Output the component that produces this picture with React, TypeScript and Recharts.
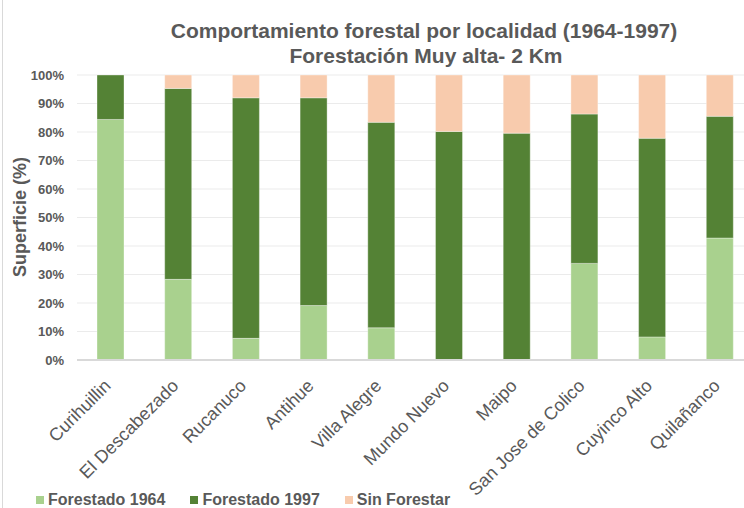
import { BarChart, Bar, XAxis, YAxis, CartesianGrid } from 'recharts'

const LOCALIDADES = [
  'Curihuillin', 'El Descabezado', 'Rucanuco', 'Antihue', 'Villa Alegre',
  'Mundo Nuevo', 'Maipo', 'San Jose de Colico', 'Cuyinco Alto', 'Quilañanco',
]
const FORESTADO_1964 = [84.4, 28.3, 7.6, 19.1, 11.3, 0, 0, 33.9, 8.1, 42.8]
const FORESTADO_1997 = [15.6, 67.0, 84.4, 72.9, 72.1, 80.2, 79.6, 52.4, 69.7, 42.7]
const SIN_FORESTAR = [0, 4.7, 8.0, 8.0, 16.6, 19.8, 20.4, 13.7, 22.2, 14.5]
const Y_TICKS = [0, 10, 20, 30, 40, 50, 60, 70, 80, 90, 100]

const SERIES = [
  { key: 'f1964', name: 'Forestado 1964', color: '#a9d18e' },
  { key: 'f1997', name: 'Forestado 1997', color: '#548235' },
  { key: 'sin', name: 'Sin Forestar', color: '#f8cbad' },
]

const data = LOCALIDADES.map((name, i) => ({
  name,
  f1964: FORESTADO_1964[i],
  f1997: FORESTADO_1997[i],
  sin: SIN_FORESTAR[i],
}))

const FONT = '"Liberation Sans", Arial, sans-serif'
const GREY = '#595959'

function XTick({ x, y, payload }: any) {
  return (
    <g transform={`translate(${x + 1},${y + 27}) rotate(-45)`}>
      <text x={0} y={0} textAnchor="end" fill={GREY} fontSize={18} fontFamily={FONT}>
        {payload.value}
      </text>
    </g>
  )
}

export default function App() {
  return (
    <div style={{ position: 'absolute', left: 0, top: 0, width: 744, height: 508, overflow: 'hidden', background: '#fff', fontFamily: FONT, color: GREY }}>
      <div style={{ position: 'absolute', left: 2, top: 0, width: 1, height: 508, background: '#d9d9d9' }} />
      <div style={{ position: 'absolute', left: 0, top: 0, width: 744, textAlign: 'center', fontWeight: 'bold', fontSize: 21, lineHeight: '25px' }}>
        <div style={{ position: 'absolute', top: 18, left: 424 - 300, width: 600 }}>Comportamiento forestal por localidad (1964-1997)</div>
        <div style={{ position: 'absolute', top: 43, left: 426 - 300, width: 600 }}>Forestación Muy alta- 2 Km</div>
      </div>
      <div style={{ position: 'absolute', left: 0, top: 0 }}>
        <BarChart
          width={762}
          height={508}
          data={data}
          margin={{ top: 75, right: 8, left: 27, bottom: 0 }}
          barSize={27}
        >
          <CartesianGrid vertical={false} stroke="#ebebeb" />
          <XAxis
            dataKey="name"
            interval={0}
            height={148}
            tick={<XTick />}
            tickSize={0}
            tickMargin={0}
            tickLine={false}
            axisLine={{ stroke: '#d9d9d9', strokeWidth: 2 }}
          />
          <YAxis
            width={50}
            domain={[0, 100]}
            ticks={Y_TICKS}
            tickFormatter={(v: number) => `${v}%`}
            tickSize={0}
            tickMargin={13}
            axisLine={false}
            tick={{ fill: GREY, fontSize: 13, fontWeight: 'bold', fontFamily: FONT }}
          />
          {SERIES.map(s => (
            <Bar
              key={s.key}
              dataKey={s.key}
              name={s.name}
              stackId="a"
              fill={s.color}
              stroke="#ffffff"
              strokeOpacity={0.35}
              strokeWidth={1}
              isAnimationActive={false}
            />
          ))}
        </BarChart>
      </div>
      <div
        style={{
          position: 'absolute', left: 20 - 100, top: 217 - 11, width: 200, height: 22,
          textAlign: 'center', fontWeight: 'bold', fontSize: 18, lineHeight: '22px',
          transform: 'rotate(-90deg)',
        }}
      >
        Superficie (%)
      </div>
      <div style={{ position: 'absolute', left: 36, top: 492, display: 'flex', fontWeight: 'bold', fontSize: 16, lineHeight: '16px' }}>
        {SERIES.map((s, i) => (
          <div key={s.key} style={{ display: 'flex', alignItems: 'center', marginLeft: i === 0 ? 0 : 25 }}>
            <div style={{ width: 8, height: 8, backgroundColor: s.color, marginRight: 4 }} />
            <span>{s.name}</span>
          </div>
        ))}
      </div>
    </div>
  )
}
